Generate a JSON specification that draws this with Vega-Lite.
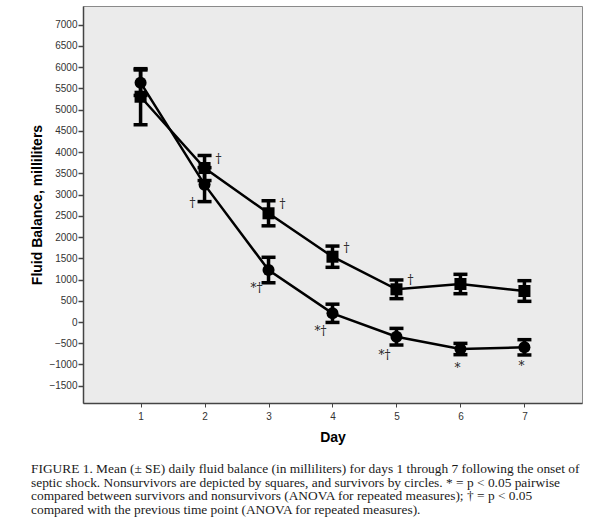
{
  "$schema": "https://vega.github.io/schema/vega-lite/v6.json",
  "width": 499,
  "height": 397,
  "autosize": {"type": "none"},
  "padding": {"left": 83, "top": 6, "right": 28, "bottom": 117},
  "background": "white",
  "config": {
    "view": {"fill": "#ebebeb", "stroke": "#8a8a8a", "strokeWidth": 1},
    "font": "Liberation Sans"
  },
  "title": {
    "text": [
      "FIGURE 1. Mean (± SE) daily fluid balance (in milliliters) for days 1 through 7 following the onset of",
      "septic shock. Nonsurvivors are depicted by squares, and survivors by circles. * = p < 0.05 pairwise",
      "compared between survivors and nonsurvivors (ANOVA for repeated measures);  † = p < 0.05",
      "compared with the previous time point (ANOVA for repeated measures)."
    ],
    "orient": "bottom",
    "anchor": "start",
    "frame": "group",
    "dx": -52,
    "offset": 18,
    "font": "Liberation Serif",
    "fontSize": 13.4,
    "fontWeight": "normal",
    "lineHeight": 13.5,
    "color": "#1a1a1a"
  },
  "data": {
    "values": [
      {"day": 1, "group": "Nonsurvivors", "mean": 5305, "se": 660, "note": ""},
      {"day": 2, "group": "Nonsurvivors", "mean": 3626, "se": 295, "note": "†"},
      {"day": 3, "group": "Nonsurvivors", "mean": 2560, "se": 295, "note": "†"},
      {"day": 4, "group": "Nonsurvivors", "mean": 1538, "se": 250, "note": "†"},
      {"day": 5, "group": "Nonsurvivors", "mean": 770, "se": 220, "note": "†"},
      {"day": 6, "group": "Nonsurvivors", "mean": 895, "se": 228, "note": ""},
      {"day": 7, "group": "Nonsurvivors", "mean": 730, "se": 243, "note": ""},
      {"day": 1, "group": "Survivors", "mean": 5635, "se": 300, "note": ""},
      {"day": 2, "group": "Survivors", "mean": 3235, "se": 400, "note": "†"},
      {"day": 3, "group": "Survivors", "mean": 1224, "se": 300, "note": "*†"},
      {"day": 4, "group": "Survivors", "mean": 205, "se": 215, "note": "*†"},
      {"day": 5, "group": "Survivors", "mean": -346, "se": 196, "note": "*†"},
      {"day": 6, "group": "Survivors", "mean": -636, "se": 133, "note": "*"},
      {"day": 7, "group": "Survivors", "mean": -596, "se": 180, "note": "*"}
    ]
  },
  "encoding": {
    "x": {
      "field": "day",
      "type": "quantitative",
      "scale": {"domain": [0.1, 7.9], "nice": false, "zero": false},
      "axis": {
        "title": "Day",
        "values": [1, 2, 3, 4, 5, 6, 7],
        "grid": false,
        "domainColor": "#444",
        "domainWidth": 1.5,
        "tickColor": "#444",
        "tickSize": 4,
        "labelFontSize": 10,
        "labelColor": "#333",
        "labelPadding": 4,
        "titleFont": "Liberation Sans",
        "titleFontSize": 14,
        "titleFontWeight": "bold",
        "titleColor": "#000",
        "titlePadding": 9
      }
    },
    "y": {
      "field": "mean",
      "type": "quantitative",
      "scale": {"domain": [-1907, 7441], "nice": false, "zero": false},
      "axis": {
        "title": "Fluid Balance, milliliters",
        "format": "d",
        "values": [-1500, -1000, -500, 0, 500, 1000, 1500, 2000, 2500, 3000, 3500, 4000, 4500, 5000, 5500, 6000, 6500, 7000],
        "grid": false,
        "domainColor": "#444",
        "domainWidth": 1.5,
        "tickColor": "#444",
        "tickSize": 5,
        "tickWidth": 1.5,
        "labelFontSize": 10,
        "labelColor": "#333",
        "labelPadding": 1,
        "titleFont": "Liberation Sans",
        "titleFontSize": 14,
        "titleFontWeight": "bold",
        "titleColor": "#000",
        "titlePadding": 4
      }
    }
  },
  "layer": [
    {
      "mark": {
        "type": "errorbar",
        "color": "black",
        "opacity": 1,
        "thickness": 3.5,
        "rule": {"strokeWidth": 3.5, "opacity": 1, "color": "black"},
        "ticks": {"size": 14, "thickness": 3.5, "opacity": 1, "color": "black"}
      },
      "encoding": {
        "yError": {"field": "se"}
      }
    },
    {
      "mark": {"type": "line", "color": "black", "strokeWidth": 2.5},
      "encoding": {"detail": {"field": "group"}}
    },
    {
      "mark": {"type": "point", "filled": true, "color": "black", "opacity": 1, "size": 145},
      "encoding": {
        "shape": {
          "field": "group",
          "type": "nominal",
          "scale": {"domain": ["Nonsurvivors", "Survivors"], "range": ["square", "circle"]},
          "legend": null
        }
      }
    },
    {
      "transform": [{"filter": "datum.group === 'Nonsurvivors'"}],
      "mark": {"type": "text", "font": "DejaVu Serif", "fontSize": 12, "color": "#222", "dx": 14, "dy": -9, "align": "center", "baseline": "middle"},
      "encoding": {"text": {"field": "note"}}
    },
    {
      "transform": [{"filter": "datum.group === 'Survivors' && datum.note !== '*'"}],
      "mark": {"type": "text", "font": "DejaVu Serif", "fontSize": 12, "color": "#222", "dx": -12, "dy": 18, "align": "center", "baseline": "middle"},
      "encoding": {"text": {"field": "note"}}
    },
    {
      "transform": [{"filter": "datum.group === 'Survivors' && datum.note === '*'"}],
      "mark": {"type": "text", "font": "DejaVu Serif", "fontSize": 12, "color": "#222", "dx": -3, "dy": 19, "align": "center", "baseline": "middle"},
      "encoding": {"text": {"field": "note"}}
    }
  ]
}
